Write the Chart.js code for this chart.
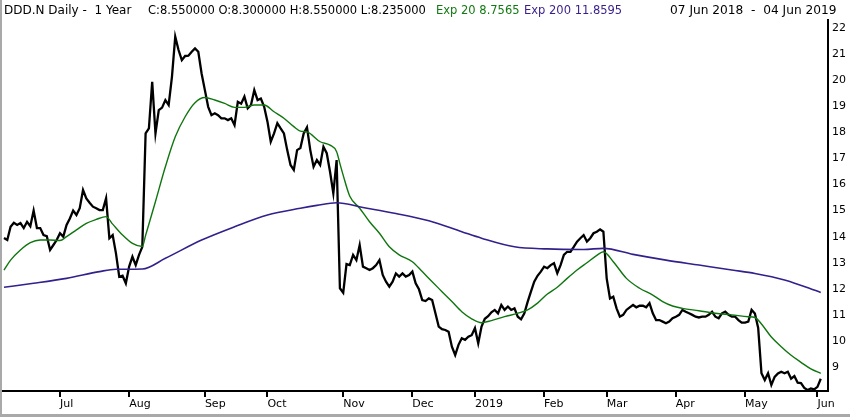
<!DOCTYPE html>
<html>
<head>
<meta charset="utf-8">
<script src="https://cdn.jsdelivr.net/npm/chart.js"></script>
<style>
    body { margin: 0; background: #fff; }
    #wrap { position: relative; width: 850px; height: 417px; background: #fff; overflow: hidden; }
    #chartBox { position: absolute; left: 0; top: 0; width: 850px; height: 414px; }
    .frame { position: absolute; background: #a9a9a9; }
    .hdr { position: absolute; top: 2px; line-height: 16px; font-family: "DejaVu Sans", sans-serif; font-size: 11.5px; color: #000; white-space: pre; }
</style>
</head>
<body>
<div id="wrap">
    <div id="chartBox"><canvas id="chart"></canvas></div>
    <div class="frame" style="left:0; top:0; width:2px; height:417px;"></div>
    <div class="frame" style="left:0; top:414px; width:850px; height:3px;"></div>
    <span class="hdr" style="left:4px; font-size:12px;">DDD.N Daily -  1 Year</span>
    <span class="hdr" style="left:148px;">C:8.550000 O:8.300000 H:8.550000 L:8.235000</span>
    <span class="hdr" style="left:436px; color:#117a11;">Exp 20 8.7565</span>
    <span class="hdr" style="left:524px; color:#3a1f8c;">Exp 200 11.8595</span>
    <span class="hdr" style="left:670px; font-size:12.2px;">07 Jun 2018  -  04 Jun 2019</span>
</div>
<script>
// Cierre diario, un valor por sesión (07 Jun 2018 - 04 Jun 2019)
const close = [
    13.95, 13.87, 14.38, 14.53, 14.45, 14.52, 14.33, 14.57, 14.40, 15.00,
    14.33, 14.33, 14.06, 14.02, 13.49, 13.68, 13.87, 14.13, 14.00, 14.45,
    14.70, 15.00, 14.83, 15.09, 15.79, 15.47, 15.30, 15.15, 15.09, 15.02,
    15.02, 15.47, 13.94, 14.06, 13.36, 12.46, 12.50, 12.21, 12.85, 13.23,
    12.91, 13.30, 13.61, 17.96, 18.15, 19.94, 17.96, 18.85, 18.95, 19.24,
    19.05, 20.13, 21.67, 21.16, 20.77, 20.93, 20.94, 21.09, 21.22, 21.09,
    20.26, 19.62, 18.98, 18.66, 18.73, 18.66, 18.54, 18.54, 18.47, 18.54,
    18.28, 19.17, 19.10, 19.37, 18.92, 19.05, 19.62, 19.24, 19.30, 18.98,
    18.41, 17.64, 17.96, 18.35, 18.15, 17.96, 17.32, 16.75, 16.56, 17.32,
    17.40, 17.96, 18.19, 17.32, 16.68, 16.94, 16.75, 17.45, 17.20, 16.49,
    15.66, 16.94, 12.02, 11.85, 12.95, 12.91, 13.30, 13.10, 13.68, 12.85,
    12.79, 12.72, 12.79, 12.91, 13.10, 12.53, 12.27, 12.08, 12.27, 12.59,
    12.47, 12.59, 12.47, 12.53, 12.66, 12.21, 11.98, 11.57, 11.53, 11.63,
    11.57, 11.06, 10.55, 10.45, 10.42, 10.35, 9.78, 9.46, 9.85, 10.10,
    10.04, 10.16, 10.22, 10.49, 9.91, 10.55, 10.85, 10.95, 11.10, 11.19,
    11.06, 11.38, 11.19, 11.32, 11.19, 11.25, 10.93, 10.83, 11.06, 11.50,
    11.89, 12.27, 12.50, 12.66, 12.85, 12.79, 12.91, 12.98, 12.60, 12.91,
    13.30, 13.42, 13.42, 13.61, 13.81, 13.94, 14.06, 13.81, 13.94, 14.13,
    14.19, 14.28, 14.19, 12.40, 11.63, 11.70, 11.25, 10.93, 11.00, 11.19,
    11.29, 11.38, 11.29, 11.35, 11.35, 11.29, 11.45, 11.06, 10.80, 10.80,
    10.74, 10.68, 10.74, 10.87, 10.93, 11.00, 11.19, 11.12, 11.06, 11.00,
    10.93, 10.90, 10.93, 10.93, 11.00, 11.12, 10.93, 10.87, 11.06, 11.12,
    11.00, 10.93, 10.93, 10.80, 10.70, 10.70, 10.74, 11.19, 11.05, 10.50,
    8.76, 8.50, 8.76, 8.31, 8.62, 8.75, 8.82, 8.76, 8.82, 8.55,
    8.65, 8.40, 8.38, 8.20, 8.12, 8.18, 8.14, 8.24, 8.55
];

// Media exponencial 20 (sesión -> valor)
const ema20Day = [0, 2, 5, 8, 11, 14, 17, 19, 22, 25, 28, 31, 33, 36, 39, 42, 43, 46, 49, 52,
    55, 58, 61, 64, 67, 70, 73, 76, 79, 82, 85, 88, 90, 92, 96, 99, 101, 102, 103, 105,
    108, 111, 114, 117, 120, 124, 127, 130, 133, 136, 139, 142, 145, 148, 152, 156, 159, 162, 165, 168,
    171, 174, 177, 180, 182, 185, 189, 193, 197, 200, 203, 206, 211, 216, 221, 226, 228, 230, 233, 236,
    239, 242, 245, 248];
const ema20Val = [12.72, 13.10, 13.49, 13.77, 13.87, 13.87, 13.85, 14.00, 14.26, 14.51, 14.66, 14.77, 14.48, 14.06, 13.74, 13.62, 14.05, 15.35, 16.68, 17.83,
    18.60, 19.14, 19.34, 19.24, 19.11, 18.96, 18.96, 19.05, 19.05, 18.79, 18.54, 18.22, 18.05, 18.02, 17.64, 17.51, 17.26, 16.80, 16.35, 15.55,
    15.09, 14.57, 14.13, 13.61, 13.30, 13.04, 12.66, 12.27, 11.89, 11.51, 11.12, 10.85, 10.70, 10.78, 10.93, 11.06, 11.19, 11.45, 11.80, 12.06,
    12.40, 12.72, 13.00, 13.28, 13.42, 13.04, 12.40, 12.02, 11.76, 11.51, 11.34, 11.25, 11.16, 11.06, 11.00, 10.93, 10.90, 10.65, 10.15, 9.78,
    9.45, 9.18, 8.93, 8.76];

// Media exponencial 200
const ema200Day = [0, 9, 19, 29, 34, 42, 49, 60, 70, 80, 90, 95, 101, 109, 119, 129, 139, 145, 155, 165,
    176, 182, 191, 201, 211, 221, 228, 237, 248];
const ema200Val = [12.06, 12.21, 12.40, 12.66, 12.75, 12.76, 13.17, 13.87, 14.38, 14.83, 15.09, 15.20, 15.30, 15.12, 14.89, 14.61, 14.19, 13.94, 13.61, 13.53,
    13.51, 13.55, 13.32, 13.10, 12.91, 12.72, 12.59, 12.34, 11.86];

// Marcas del eje X: primera sesión de cada mes
const monthTicks = [17, 38, 61, 80, 103, 124, 143, 164, 183, 204, 225, 247];
const monthLabels = ['Jul', 'Aug', 'Sep', 'Oct', 'Nov', 'Dec', '2019', 'Feb', 'Mar', 'Apr', 'May', 'Jun'];
const priceTicks = [9, 10, 11, 12, 13, 14, 15, 16, 17, 18, 19, 20, 21, 22];

function toPoints(days, values) {
    return days.map((d, i) => ({ x: d, y: values[i] }));
}

const axisFont = { family: 'DejaVu Sans', size: 11 };

new Chart(document.getElementById('chart').getContext('2d'), {
    type: 'line',
    data: {
        datasets: [
            {
                label: 'Exp 200',
                data: toPoints(ema200Day, ema200Val),
                borderColor: '#33208c',
                borderWidth: 1.6,
                pointRadius: 0,
                cubicInterpolationMode: 'monotone',
            },
            {
                label: 'Exp 20',
                data: toPoints(ema20Day, ema20Val),
                borderColor: '#0f760f',
                borderWidth: 1.4,
                pointRadius: 0,
                cubicInterpolationMode: 'monotone',
            },
            {
                label: 'DDD.N',
                data: close.map((v, i) => ({ x: i, y: v })),
                borderColor: '#000',
                borderWidth: 2.3,
                pointRadius: 0,
                tension: 0,
            },
        ],
    },
    options: {
        responsive: true,
        maintainAspectRatio: false,
        animation: false,
        layout: { padding: { left: 3, top: 20, right: 0, bottom: 0 } },
        plugins: { legend: { display: false }, tooltip: { enabled: false } },
        scales: {
            x: {
                type: 'linear',
                min: -0.3,
                max: 250.2,
                afterBuildTicks: (scale) => { scale.ticks = monthTicks.map((v) => ({ value: v })); },
                afterFit: (scale) => { scale.height = 23; },
                border: { color: '#000', width: 2 },
                grid: { drawOnChartArea: false, drawTicks: true, tickLength: 6, color: '#000', lineWidth: 2 },
                ticks: {
                    autoSkip: false,
                    maxRotation: 0,
                    align: 'start',
                    padding: 1,
                    color: '#000',
                    font: axisFont,
                    callback: (value, index) => monthLabels[index],
                },
            },
            y: {
                position: 'right',
                min: 8.08,
                max: 22.31,
                afterBuildTicks: (scale) => { scale.ticks = priceTicks.map((v) => ({ value: v })); },
                afterFit: (scale) => { scale.width = 22; },
                border: { color: '#000', width: 2 },
                grid: { drawOnChartArea: false, drawTicks: false },
                ticks: { padding: 4, color: '#000', font: axisFont },
            },
        },
    },
});
</script>
</body>
</html>
